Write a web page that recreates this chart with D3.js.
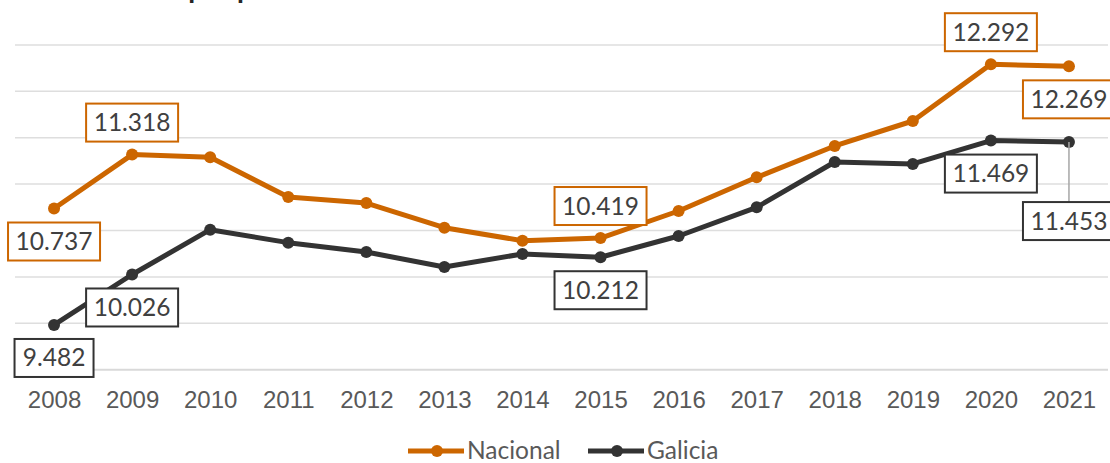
<!doctype html>
<html>
<head>
	<meta charset="utf-8">
	<style>
		body{margin:0;background:#fff;}
		svg{display:block;font-family:Lato, "Open Sans", sans-serif;}
		.grid line{stroke:#dedede;stroke-width:1.5;}
		.tick text{fill:#595959;font-size:24px;}
		.lbl text{fill:#404040;font-size:24.5px;}
	</style>
</head>
<body>
	<div id="root"></div>
	<script src="https://d3js.org/d3.v7.min.js"></script>
	<script>

		var WIDTH = 1110;
		var HEIGHT = 463;

		var years = [2008, 2009, 2010, 2011, 2012, 2013, 2014, 2015, 2016, 2017, 2018, 2019, 2020, 2021];
		var nacional = [10.737, 11.318, 11.289, 10.861, 10.796, 10.530, 10.390, 10.419, 10.710, 11.073, 11.411, 11.680, 12.292, 12.269];
		var galicia = [9.482, 10.026, 10.509, 10.369, 10.268, 10.107, 10.247, 10.212, 10.441, 10.750, 11.238, 11.217, 11.469, 11.453];
		var yTicks = [9, 9.5, 10, 10.5, 11, 11.5, 12, 12.5];
		var seriesNames = ['Nacional', 'Galicia'];
		var colors = ['#cc6600', '#333333'];
		var title = 'Gasto medio por persona';

		// which points get a value label, and on which side
		var nacLabels = {2008: 'below', 2009: 'above', 2015: 'above', 2020: 'above', 2021: 'below'};
		var galLabels = {2008: 'below', 2009: 'below', 2015: 'below', 2020: 'below', 2021: 'far'};

		var x = d3.scalePoint()
			.domain(years)
			.range([15, 1108])
			.padding(0.5);

		var y = d3.scaleLinear()
			.domain([9, 12.5])
			.range([369.7, 44.9]);

		var svg = d3.select('#root').append('svg')
			.attr('width', WIDTH)
			.attr('height', HEIGHT);

		// title, mostly cut off above the frame
		svg.append('text')
			.attr('x', 24)
			.attr('y', -2)
			.attr('font-size', 28)
			.attr('font-weight', 'bold')
			.attr('fill', '#262626')
			.text(title);

		// gridlines
		svg.append('g').attr('class', 'grid')
			.selectAll('line')
			.data(yTicks.slice(1))
			.enter().append('line')
				.attr('x1', 15).attr('x2', 1108)
				.attr('y1', function(d){ return y(d); })
				.attr('y2', function(d){ return y(d); });

		svg.append('line')
			.attr('x1', 15).attr('x2', 1108)
			.attr('y1', y(9)).attr('y2', y(9))
			.attr('stroke', '#d9d9d9')
			.attr('stroke-width', 2);

		// x axis labels
		var xAxis = svg.append('g')
			.attr('transform', 'translate(0,' + y(9) + ')')
			.call(d3.axisBottom(x).tickSize(0).tickPadding(21));
		xAxis.select('.domain').remove();
		xAxis.selectAll('.tick text').attr('font-family', null);

		var line = d3.line()
			.x(function(d, i){ return x(years[i]); })
			.y(function(d){ return y(d); });

		var series = [nacional, galicia];
		var labelSides = [nacLabels, galLabels];

		series.forEach(function(vals, s){
			svg.append('path')
				.datum(vals)
				.attr('d', line)
				.attr('fill', 'none')
				.attr('stroke', colors[s])
				.attr('stroke-width', 5)
				.attr('stroke-linejoin', 'round');

			svg.append('g').selectAll('circle')
				.data(vals)
				.enter().append('circle')
					.attr('cx', function(d, i){ return x(years[i]); })
					.attr('cy', function(d){ return y(d); })
					.attr('r', 6)
					.attr('fill', colors[s]);
		});

		// value labels
		series.forEach(function(vals, s){
			var g = svg.append('g').attr('class', 'lbl');
			years.forEach(function(yr, i){
				var side = labelSides[s][yr];
				if (!side) return;
				var txt = d3.format('.3f')(vals[i]);
				var cx = x(yr);
				var py = y(vals[i]);
				var cy = side == 'above' ? py - 32 : side == 'below' ? py + 33 : py + 79;
				var w = txt.length == 5 ? 79 : 92;
				var h = 38;
				if (side == 'far') {
					g.append('line')
						.attr('x1', cx).attr('x2', cx)
						.attr('y1', py).attr('y2', cy - h / 2)
						.attr('stroke', '#a6a6a6')
						.attr('stroke-width', 1.5);
				}
				g.append('rect')
					.attr('x', cx - w / 2)
					.attr('y', cy - h / 2)
					.attr('width', w)
					.attr('height', h)
					.attr('fill', '#fff')
					.attr('stroke', colors[s])
					.attr('stroke-width', 2);
				g.append('text')
					.attr('x', cx)
					.attr('y', cy + 8.5)
					.attr('text-anchor', 'middle')
					.text(txt);
			});
		});

		// legend
		var legend = svg.append('g').attr('transform', 'translate(0,451)');
		var legX = [408, 588];
		seriesNames.forEach(function(name, s){
			var lg = legend.append('g').attr('transform', 'translate(' + legX[s] + ',0)');
			lg.append('line')
				.attr('x1', 0).attr('x2', 56)
				.attr('stroke', colors[s])
				.attr('stroke-width', 5);
			lg.append('circle')
				.attr('cx', 29).attr('r', 6)
				.attr('fill', colors[s]);
			lg.append('text')
				.attr('x', 59)
				.attr('y', 8)
				.attr('font-size', 24.5)
				.attr('fill', '#595959')
				.text(name);
		});
	</script>
</body>
</html>
